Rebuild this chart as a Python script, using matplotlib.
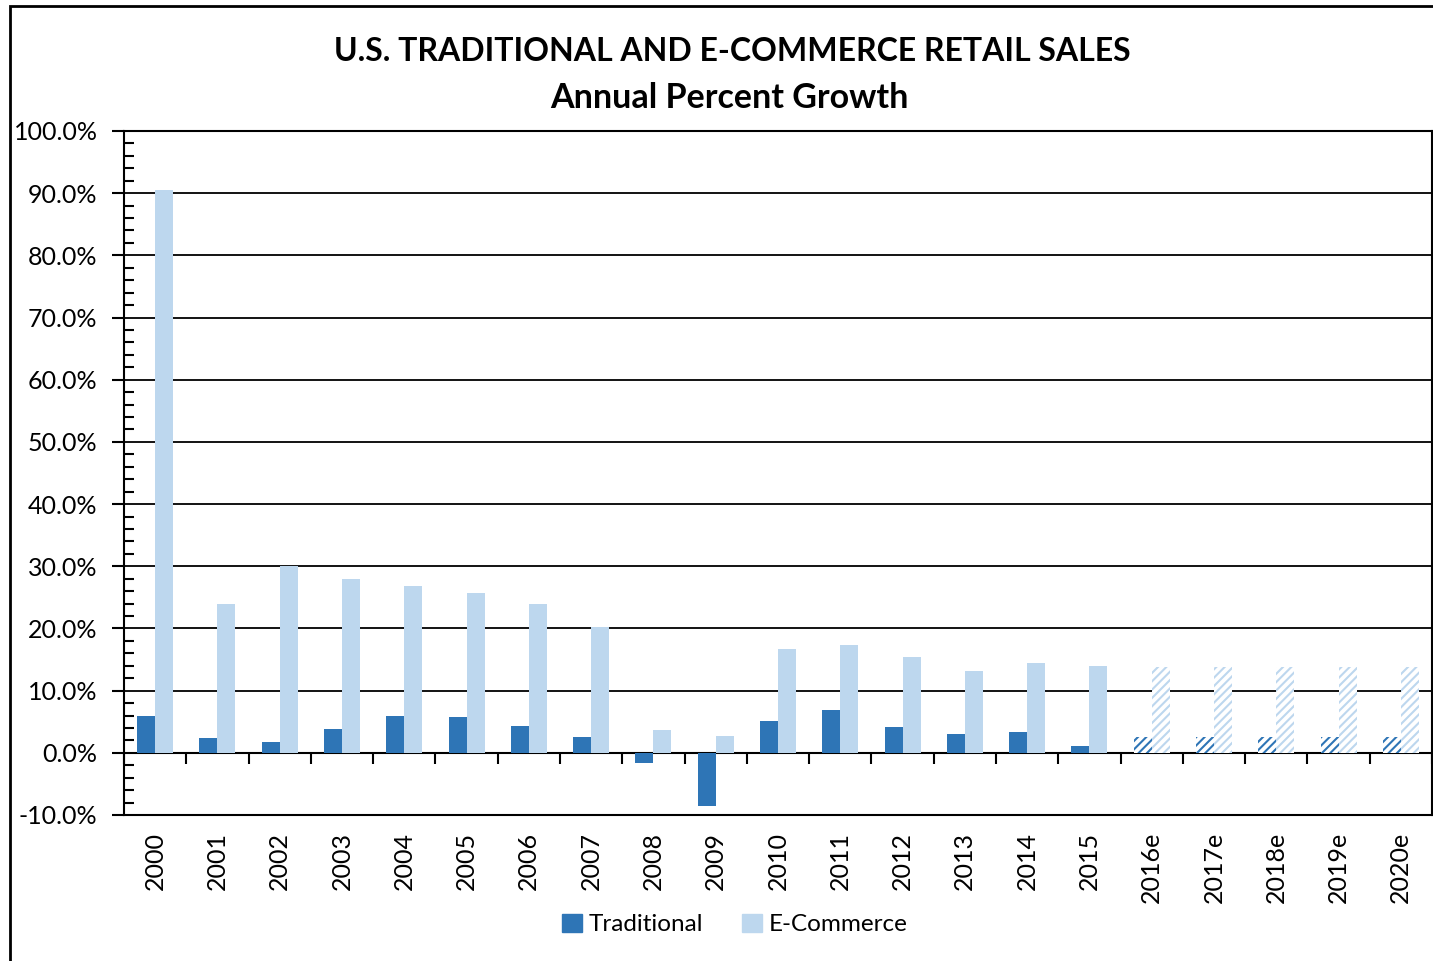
# U.S. traditional vs e-commerce retail sales growth, bar chart

import matplotlib
matplotlib.use("Agg")
import matplotlib.pyplot as plt
import numpy as np
from matplotlib.patches import Rectangle, Patch
from matplotlib.ticker import MultipleLocator, FuncFormatter

years = ["2000", "2001", "2002", "2003", "2004", "2005", "2006", "2007",
         "2008", "2009", "2010", "2011", "2012", "2013", "2014", "2015",
         "2016e", "2017e", "2018e", "2019e", "2020e"]
traditional = [6.0, 2.4, 1.8, 3.9, 6.0, 5.8, 4.3, 2.6, -1.7, -8.6, 5.1,
               6.9, 4.2, 3.1, 3.4, 1.1, 2.6, 2.6, 2.6, 2.6, 2.6]
ecommerce = [90.5, 24.0, 30.1, 28.0, 26.9, 25.7, 24.0, 20.3, 3.7, 2.7, 16.7,
             17.4, 15.4, 13.2, 14.5, 14.0, 13.8, 13.8, 13.8, 13.8, 13.8]
forecast = [y.endswith("e") for y in years]

dark_blue = "#2E75B6"
light_blue = "#BDD7EE"

plt.rcParams["font.family"] = ["Lato", "DejaVu Sans"]
plt.rcParams["hatch.linewidth"] = 1.5

fig = plt.figure(figsize=(14.33, 9.61), dpi=100)
ax = fig.add_axes([124 / 1433, 1 - 815 / 961, 1308 / 1433, 684 / 961])

x = np.arange(len(years))
w = 0.29
for i in range(len(years)):
    if forecast[i]:
        ax.bar(x[i] - w / 2, traditional[i], w, facecolor="white",
               edgecolor=dark_blue, hatch="////", linewidth=0, zorder=3)
        ax.bar(x[i] + w / 2, ecommerce[i], w, facecolor="white",
               edgecolor=light_blue, hatch="////", linewidth=0, zorder=3)
    else:
        ax.bar(x[i] - w / 2, traditional[i], w, color=dark_blue, zorder=3)
        ax.bar(x[i] + w / 2, ecommerce[i], w, color=light_blue, zorder=3)

ymin, ymax = -10, 100
ax.set_ylim(ymin, ymax)
ax.set_xlim(-0.5, len(years) - 0.5)

ax.yaxis.set_major_locator(MultipleLocator(10))
ax.yaxis.set_minor_locator(MultipleLocator(2))
ax.yaxis.set_major_formatter(FuncFormatter(lambda v, p: f"{v:.1f}%"))
ax.tick_params(axis="y", which="major", direction="out", length=9, width=1.5,
               labelsize=18, pad=10)
ax.tick_params(axis="y", which="minor", direction="in", length=7, width=1.5)
ax.grid(axis="y", which="major", color="black", linewidth=1.3, zorder=1)

ax.set_xticks(x)
ax.set_xticklabels(years, rotation=90)
ax.tick_params(axis="x", length=0, labelsize=18, pad=12)

for s in ["left", "bottom", "top", "right"]:
    ax.spines[s].set_linewidth(1.5)
    ax.spines[s].set_color("black")

# zero line with category boundary ticks
zero_ax = ax.secondary_xaxis((0 - ymin) / (ymax - ymin))
zero_ax.set_xticks(np.arange(len(years) + 1) - 0.5)
zero_ax.set_xticklabels([])
zero_ax.tick_params(direction="out", length=8, width=1.5)
zero_ax.spines["bottom"].set_linewidth(1.5)

fig.text(0.511, 0.946, "U.S. TRADITIONAL AND E-COMMERCE RETAIL SALES",
         ha="center", va="center", fontsize=23, fontweight="bold")
fig.text(0.509, 0.898, "Annual Percent Growth",
         ha="center", va="center", fontsize=24.5, fontweight="bold")

handles = [Patch(color=dark_blue, label="Traditional"),
           Patch(color=light_blue, label="E-Commerce")]
fig.legend(handles=handles, loc="center", bbox_to_anchor=(0.513, 0.038),
           ncol=2, frameon=False, fontsize=17.5, handlelength=0.8,
           handleheight=0.8, handletextpad=0.3, columnspacing=1.6)

# outer chart border
fig.patches.append(Rectangle((10 / 1433, -0.01), 1.1, 1 - 6 / 961 + 0.01,
                             transform=fig.transFigure, fill=False,
                             edgecolor="black", linewidth=2))

fig.savefig("out.png", dpi=100)
